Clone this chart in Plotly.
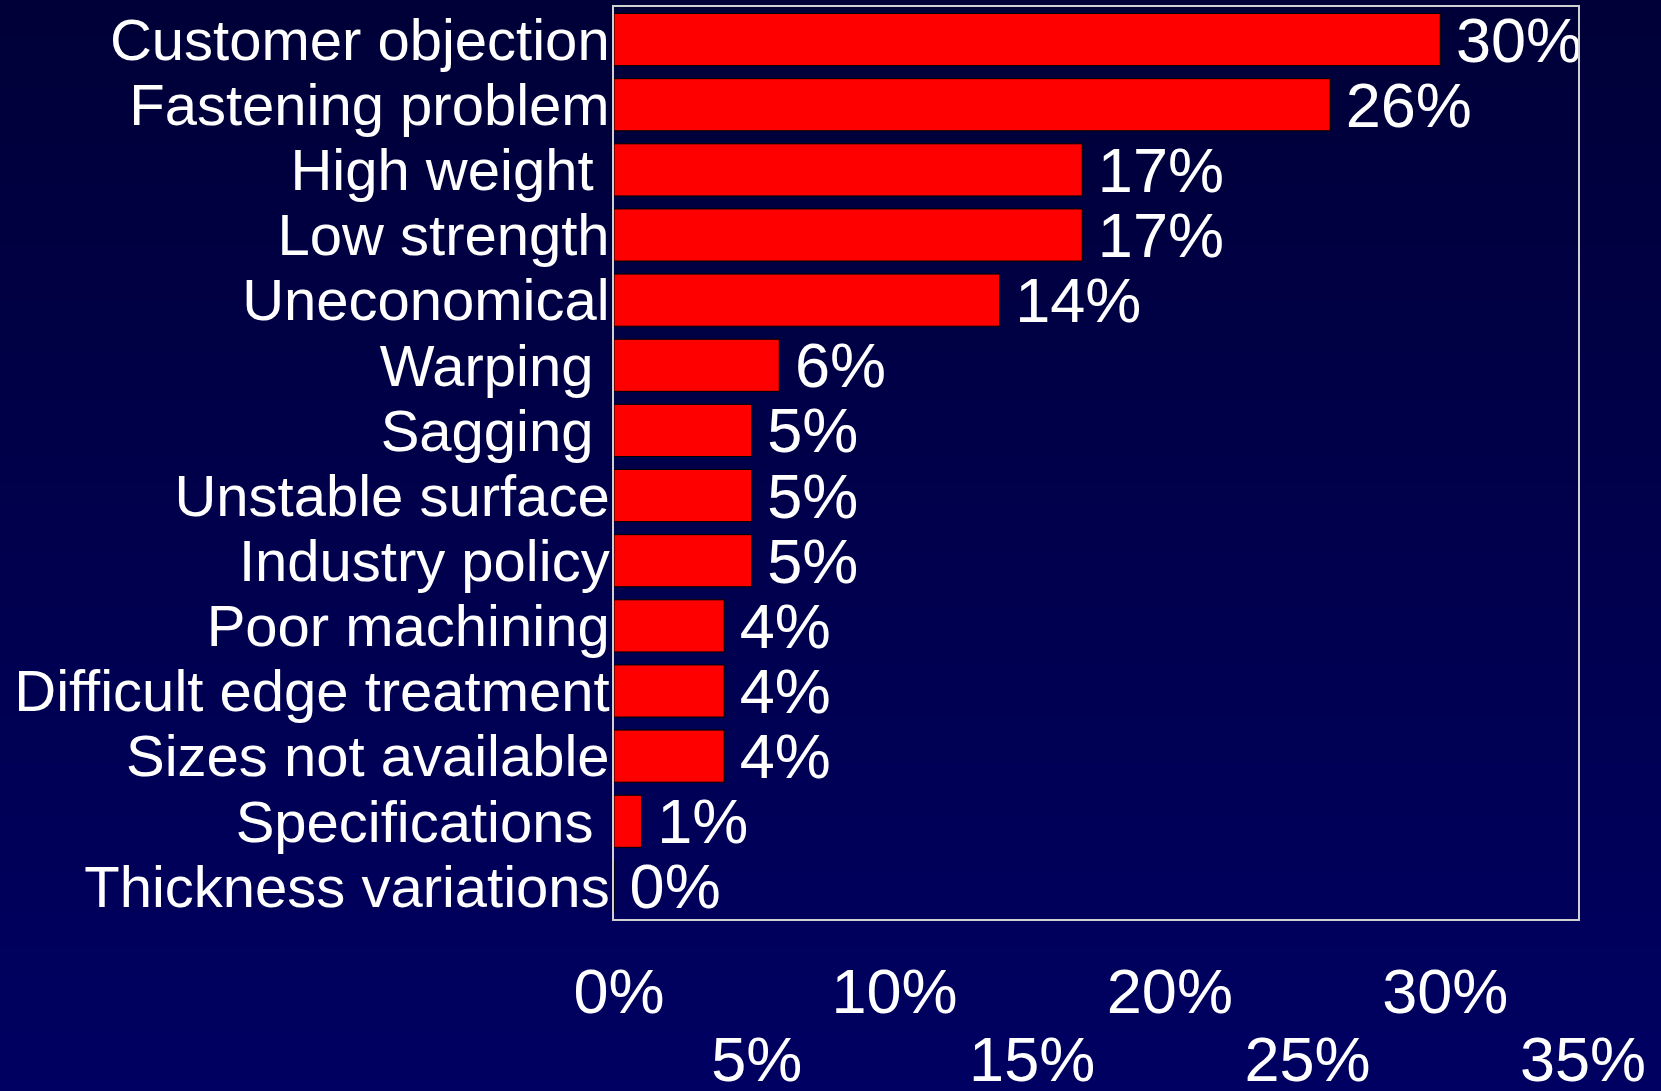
import plotly.graph_objects as go

categories = ["Customer objection", "Fastening problem", "High weight\u00a0", "Low strength",
              "Uneconomical", "Warping\u00a0", "Sagging\u00a0", "Unstable surface", "Industry policy",
              "Poor machining", "Difficult edge treatment", "Sizes not available",
              "Specifications\u00a0", "Thickness variations"]
values = [30, 26, 17, 17, 14, 6, 5, 5, 5, 4, 4, 4, 1, 0]
ticks_upper = [0, 10, 20, 30]
ticks_lower = [5, 15, 25, 35]
tick_labels_upper = ["0%", "10%", "20%", "30%"]
tick_labels_lower = ["5%", "15%", "25%", "35%"]

W, H = 1661, 1091
ML, MR, MT, MB = 614, 83, 7, 172
FONT = "Liberation Sans, Arial, sans-serif"

fig = go.Figure()
fig.add_trace(go.Bar(
    x=values, y=categories, orientation="h",
    marker=dict(color="#ff0000", line=dict(color="#000000", width=1)),
    text=["\u2009" + str(v) + "%" for v in values], textposition="outside",
    textfont=dict(color="white", size=63, family=FONT),
    constraintext="none", cliponaxis=True, hoverinfo="skip", showlegend=False,
))
fig.add_trace(go.Scatter(
    x=ticks_lower, y=[categories[0]] * len(ticks_lower), xaxis="x2", yaxis="y",
    mode="markers", marker=dict(opacity=0, size=1), hoverinfo="skip", showlegend=False,
))

# vertical gradient background drawn as thin strips
plot_h = H - MT - MB
n = 120
top_c, bot_c = (0, 0, 56), (0, 0, 98)
shapes = []
for i in range(n):
    y0px = H * i / n
    y1px = H * (i + 1) / n + 1
    t = (i + 0.5) / n
    b = round(top_c[2] + (bot_c[2] - top_c[2]) * t)
    shapes.append(dict(
        type="rect", xref="paper", yref="paper", layer="below",
        x0=-1, x1=2,
        y0=(H - MB - y1px) / plot_h, y1=(H - MB - y0px) / plot_h,
        fillcolor=f"rgb(0,0,{b})", line=dict(width=0),
    ))

fig.update_layout(
    width=W, height=H,
    margin=dict(l=ML, r=MR, t=MT, b=MB, autoexpand=False),
    paper_bgcolor="rgb(0,0,80)", plot_bgcolor="rgba(0,0,0,0)",
    bargap=0.2, shapes=shapes,
    font=dict(family=FONT, color="white"),
    xaxis=dict(range=[0, 35], tickvals=ticks_upper, ticktext=tick_labels_upper,
               tickangle=0, showgrid=False, zeroline=False, ticks="",
               tickfont=dict(size=63, color="white", family=FONT),
               ticklabelstandoff=17, ticklabelshift=5,
               showline=True, mirror=True, linecolor="#d0d0d0", linewidth=1.5),
    xaxis2=dict(range=[0, 35], overlaying="x", side="bottom", anchor="y",
                tickvals=ticks_lower, ticktext=tick_labels_lower, tickangle=0,
                showgrid=False, zeroline=False, ticks="", showline=False,
                tickfont=dict(size=63, color="white", family=FONT),
                ticklabelstandoff=98, ticklabelshift=5),
    yaxis=dict(range=[len(categories) - 0.5, -0.5], autorange=False,
               showgrid=False, zeroline=False, ticks="",
               tickmode="array", tickvals=categories, ticktext=categories,
               tickfont=dict(size=58, color="white", family=FONT),
               ticklabelstandoff=-9,
               showline=True, mirror=True, linecolor="#d0d0d0", linewidth=1.5),
)

fig.write_html("out.html", config={"displayModeBar": False},
               post_script="document.body.style.margin='0';document.body.style.overflow='hidden';")
